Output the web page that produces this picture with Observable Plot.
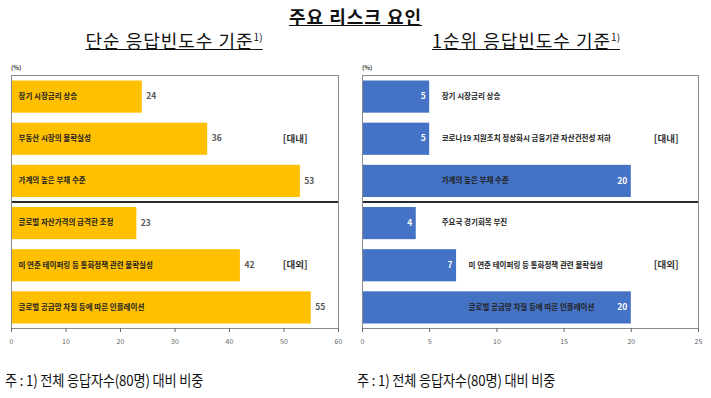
<!DOCTYPE html>
<html>
<head>
<meta charset="utf-8">
<script src="https://cdn.jsdelivr.net/npm/d3@7"></script>
<script src="https://cdn.jsdelivr.net/npm/@observablehq/plot@0.6"></script>
<style>
  body { margin:0; background:#fff; font-family:"Noto Sans CJK KR","Noto Sans",sans-serif; }
  #page { position:relative; width:711px; height:398px; overflow:hidden; background:#fff; }
  .t { position:absolute; white-space:nowrap; color:#111; }
  #title { left:0; width:711px; top:3px; text-align:center; font-size:18px; font-weight:bold; text-decoration:underline; letter-spacing:1px; }
  .sub { top:27px; font-size:18px; text-decoration:underline; letter-spacing:1px; transform:translateX(-50%); }
  .sub sup { font-size:10px; text-decoration:none; vertical-align:7px; letter-spacing:0; }
  .unit { top:63px; font-size:6px; font-weight:bold; color:#333; }
  .note { top:369px; font-size:15px; color:#111; letter-spacing:-0.2px; transform:scaleX(0.88); transform-origin:left center; }
  .plot { position:absolute; top:60px; }
</style>
</head>
<body>
<div id="page">
  <div class="t" id="title">주요 리스크 요인</div>
  <div class="t sub" id="subL" style="left:174px">단순 응답빈도수 기준<sup>1)</sup></div>
  <div class="t sub" id="subR" style="left:526px">1순위 응답빈도수 기준<sup>1)</sup></div>
  <div class="t unit" style="left:11px">(%)</div>
  <div class="t unit" style="left:362px">(%)</div>
  <div class="plot" id="left" style="left:0px"></div>
  <div class="plot" id="right" style="left:351px"></div>
  <div class="t note" style="left:5px">주 : 1) 전체 응답자수(80명) 대비 비중</div>
  <div class="t note" style="left:357px">주 : 1) 전체 응답자수(80명) 대비 비중</div>
</div>
<script>
// ---- data ----
const leftNames = [
  "장기 시장금리 상승",
  "부동산 시장의 불확실성",
  "가계의 높은 부채 수준",
  "글로벌 자산가격의 급격한 조정",
  "미 연준 테이퍼링 등 통화정책 관련 불확실성",
  "글로벌 공급망 차질 등에 따른 인플레이션"
];
const leftValues = [24, 36, 53, 23, 42, 55];

const rightNames = [
  "장기 시장금리 상승",
  "코로나19 지원조치 정상화시 금융기관 자산건전성 저하",
  "가계의 높은 부채 수준",
  "주요국 경기회복 부진",
  "미 연준 테이퍼링 등 통화정책 관련 불확실성",
  "글로벌 공급망 차질 등에 따른 인플레이션"
];
const rightValues = [5, 5, 20, 4, 7, 20];

const groupLabels = ["[대내]", "[대외]"];
const groupRows = [1, 4];
const leftTicks = [0, 10, 20, 30, 40, 50, 60];
const rightTicks = [0, 5, 10, 15, 20, 25];

// ---- build ----
const FONT = "'Noto Sans CJK KR','Noto Sans',sans-serif";
const rowsL = leftNames.map((name, i) => ({i, name, value: leftValues[i]}));
const rowsR = rightNames.map((name, i) => ({
  i, name, value: rightValues[i],
  anchor: rightValues[i] < 10 ? Math.max(rightValues[i], 5) : rightValues[i - 1]
}));
const groups = groupLabels.map((label, k) => ({label, row: groupRows[k]}));
const mid = d => d.i + 0.5;

function base(rows, opts, extra) {
  return Plot.plot({
    width: opts.width, height: 300,
    marginLeft: 11, marginRight: opts.marginRight, marginTop: 15, marginBottom: 32,
    x: {domain: [0, opts.max], label: null},
    y: {domain: [0, 6], reverse: true, axis: null},
    style: {fontFamily: FONT, color: "#666", background: "transparent", overflow: "visible"},
    marks: [
      Plot.rect(rows, {x1: 0, x2: "value", y1: "i", y2: d => d.i + 1, insetTop: 5.5, insetBottom: 4.5, fill: opts.color}),
      Plot.ruleY([3], {stroke: "#2a2a2a", strokeWidth: 2}),
      Plot.frame({stroke: "#8a8a8a"}),
      Plot.axisX({ticks: opts.ticks, tickSize: 4, tickPadding: 7, fontSize: 7, label: null}),
      Plot.text(groups, {y: d => d.row + 0.5, text: "label", frameAnchor: "right", textAnchor: "end", dx: opts.groupDx, fontSize: 9.5, fontWeight: "bold", fill: "#333"}),
      ...extra
    ]
  });
}

const leftPlot = base(rowsL, {width: 350, marginRight: 12, max: 60, ticks: leftTicks, color: "#FFC000", groupDx: -31}, [
  Plot.text(rowsL, {x: 0, y: mid, text: "name", textAnchor: "start", dx: 7, fontSize: 7.5, fontWeight: "bold", fill: "#222"}),
  Plot.text(rowsL, {x: "value", y: mid, text: d => String(d.value), textAnchor: "start", dx: 4, fontSize: 8.5, fontWeight: "bold", fill: "#555"})
]);

const rightPlot = base(rowsR, {width: 360, marginRight: 13, max: 25, ticks: rightTicks, color: "#4472C4", groupDx: -20}, [
  Plot.text(rowsR, {x: "anchor", y: mid, text: "name", textAnchor: "start", dx: 12, fontSize: 7.5, fontWeight: "bold", fill: "#222"}),
  Plot.text(rowsR, {x: "value", y: mid, text: d => String(d.value), textAnchor: "end", dx: -4, fontSize: 8.5, fontWeight: "bold", fill: "#fff"})
]);

document.getElementById("left").append(leftPlot);
document.getElementById("right").append(rightPlot);
</script>
</body>
</html>
